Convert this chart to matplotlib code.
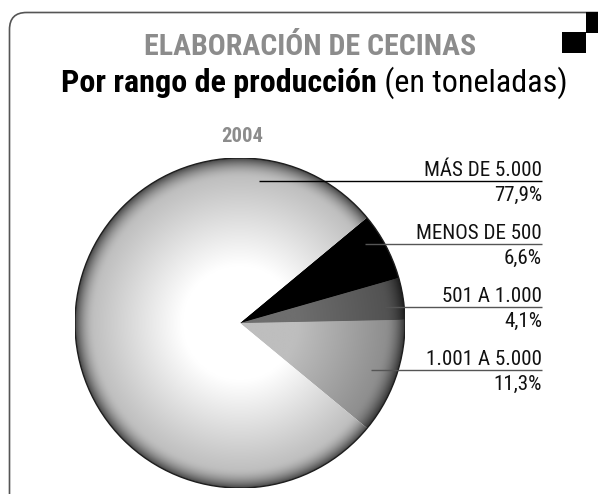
import numpy as np
import matplotlib.pyplot as plt
from matplotlib.colors import to_rgb
from matplotlib.patches import FancyBboxPatch, Rectangle, Circle

# data (order = counterclockwise from the lower right)
categories = ["1.001 A 5.000", "501 A 1.000", "MENOS DE 500", "MÁS DE 5.000"]
shares = [11.3, 4.1, 6.6, 77.9]
slice_colors = ["#bebebe", "#6e6e6e", "#000000", "#ffffff"]
year = "2004"
title = "ELABORACIÓN DE CECINAS"
subtitle_bold = "Por rango de producción"
subtitle_rest = " (en toneladas)"

# label layout in pixels: line y, line start x (same order as categories)
label_line_y = [370, 307, 244, 181]
label_line_x0 = [371, 385, 365, 259]
label_line_color = ["#555555", "#555555", "#555555", "#000000"]

W, H = 598, 494
FONT = ["Roboto Condensed", "DejaVu Sans"]
GRAY = "#8c8c8c"

fig = plt.figure(figsize=(W / 100, H / 100), dpi=100)
fig.patch.set_facecolor("white")
renderer = fig.canvas.get_renderer()


def fit_size(txt, target_w):
    # scale font size so that a text gets the wanted pixel width
    s = txt.get_fontsize()
    w = txt.get_window_extent(renderer).width
    txt.set_fontsize(s * target_w / w)
    return txt.get_fontsize()


# pie axes: centre (240, 323) px, radius 165 px
cx, cy, R = 240, 323, 165
ax = fig.add_axes([(cx - R) / W, (H - cy - R) / H, 2 * R / W, 2 * R / H])
wedges, _ = ax.pie(shares, colors=slice_colors, startangle=-39.6, counterclock=True,
                   wedgeprops=dict(linewidth=0))

# radial shading: white middle, soft falloff, steep dark rim
n = 600
g = np.linspace(-1, 1, n)
xx, yy = np.meshgrid(g, g)
r = np.hypot(xx, yy)
s = np.clip((r - 0.35) / 0.65, 0, 1)
rim = np.clip((r - 0.88) / 0.12, 0, 1) ** 2
shade = 1 - 0.3 * s - 0.42 * rim
for w, c in zip(wedges, slice_colors):
    img = np.clip(np.array(to_rgb(c))[None, None, :] * shade[:, :, None], 0, 1)
    im = ax.imshow(img, extent=(-1, 1, -1, 1), origin="lower", interpolation="bilinear", zorder=2)
    im.set_clip_path(w)
ax.add_patch(Circle((0, 0), 1, fill=False, ec="#1e1e1e", lw=1.0, zorder=3))
ax.set_xlim(-1, 1)
ax.set_ylim(-1, 1)
ax.set_aspect("equal")
ax.axis("off")

# overlay axes in pixel coordinates for frame, titles and labels
ov = fig.add_axes([0, 0, 1, 1], facecolor="none")
ov.set_xlim(0, W)
ov.set_ylim(H, 0)
ov.axis("off")

ov.add_patch(FancyBboxPatch((9.5, 12.5), 640, 500, boxstyle="round,pad=0,rounding_size=17",
                            fc="none", ec="#555555", lw=1.2))
ov.add_patch(Rectangle((562, 32), 24, 21, fc="black", ec="none"))
ov.add_patch(Rectangle((586, 12), 12, 21, fc="black", ec="none"))

tt = ov.text(310, 55, title, ha="center", va="baseline", family=FONT, fontweight="heavy",
             fontsize=20, color=GRAY)
fit_size(tt, 332)

t1 = ov.text(0, 92, subtitle_bold, ha="left", va="baseline", family=FONT,
             fontweight="bold", fontsize=22, color="black")
t2 = ov.text(0, 92, subtitle_rest, ha="left", va="baseline", family=FONT,
             fontsize=22, color="black")
w1 = t1.get_window_extent(renderer).width
w2 = t2.get_window_extent(renderer).width
k = 506 / (w1 + w2)
t1.set_fontsize(22 * k)
t2.set_fontsize(22 * k)
w1 = t1.get_window_extent(renderer).width
t1.set_x(61)
t2.set_x(61 + w1)

ty = ov.text(242, 142, year, ha="center", va="baseline", family=FONT, fontweight="bold",
             fontsize=15, color=GRAY)
fit_size(ty, 42)

probe = ov.text(0, -100, categories[3], family=FONT, fontsize=14)
label_size = fit_size(probe, 118)
probe.remove()

x_end = 542
for cat, val, ly, lx, lc in zip(categories, shares, label_line_y, label_line_x0, label_line_color):
    ov.plot([lx, x_end], [ly, ly], color=lc, lw=1.0, solid_capstyle="butt")
    ov.text(x_end, ly - 5, cat, ha="right", va="baseline", family=FONT, fontsize=label_size, color="#111111")
    pct = f"{val:.1f}%".replace(".", ",")
    ov.text(x_end, ly + 20, pct, ha="right", va="baseline", family=FONT, fontsize=label_size, color="#111111")

fig.savefig("out.png", dpi=100)
